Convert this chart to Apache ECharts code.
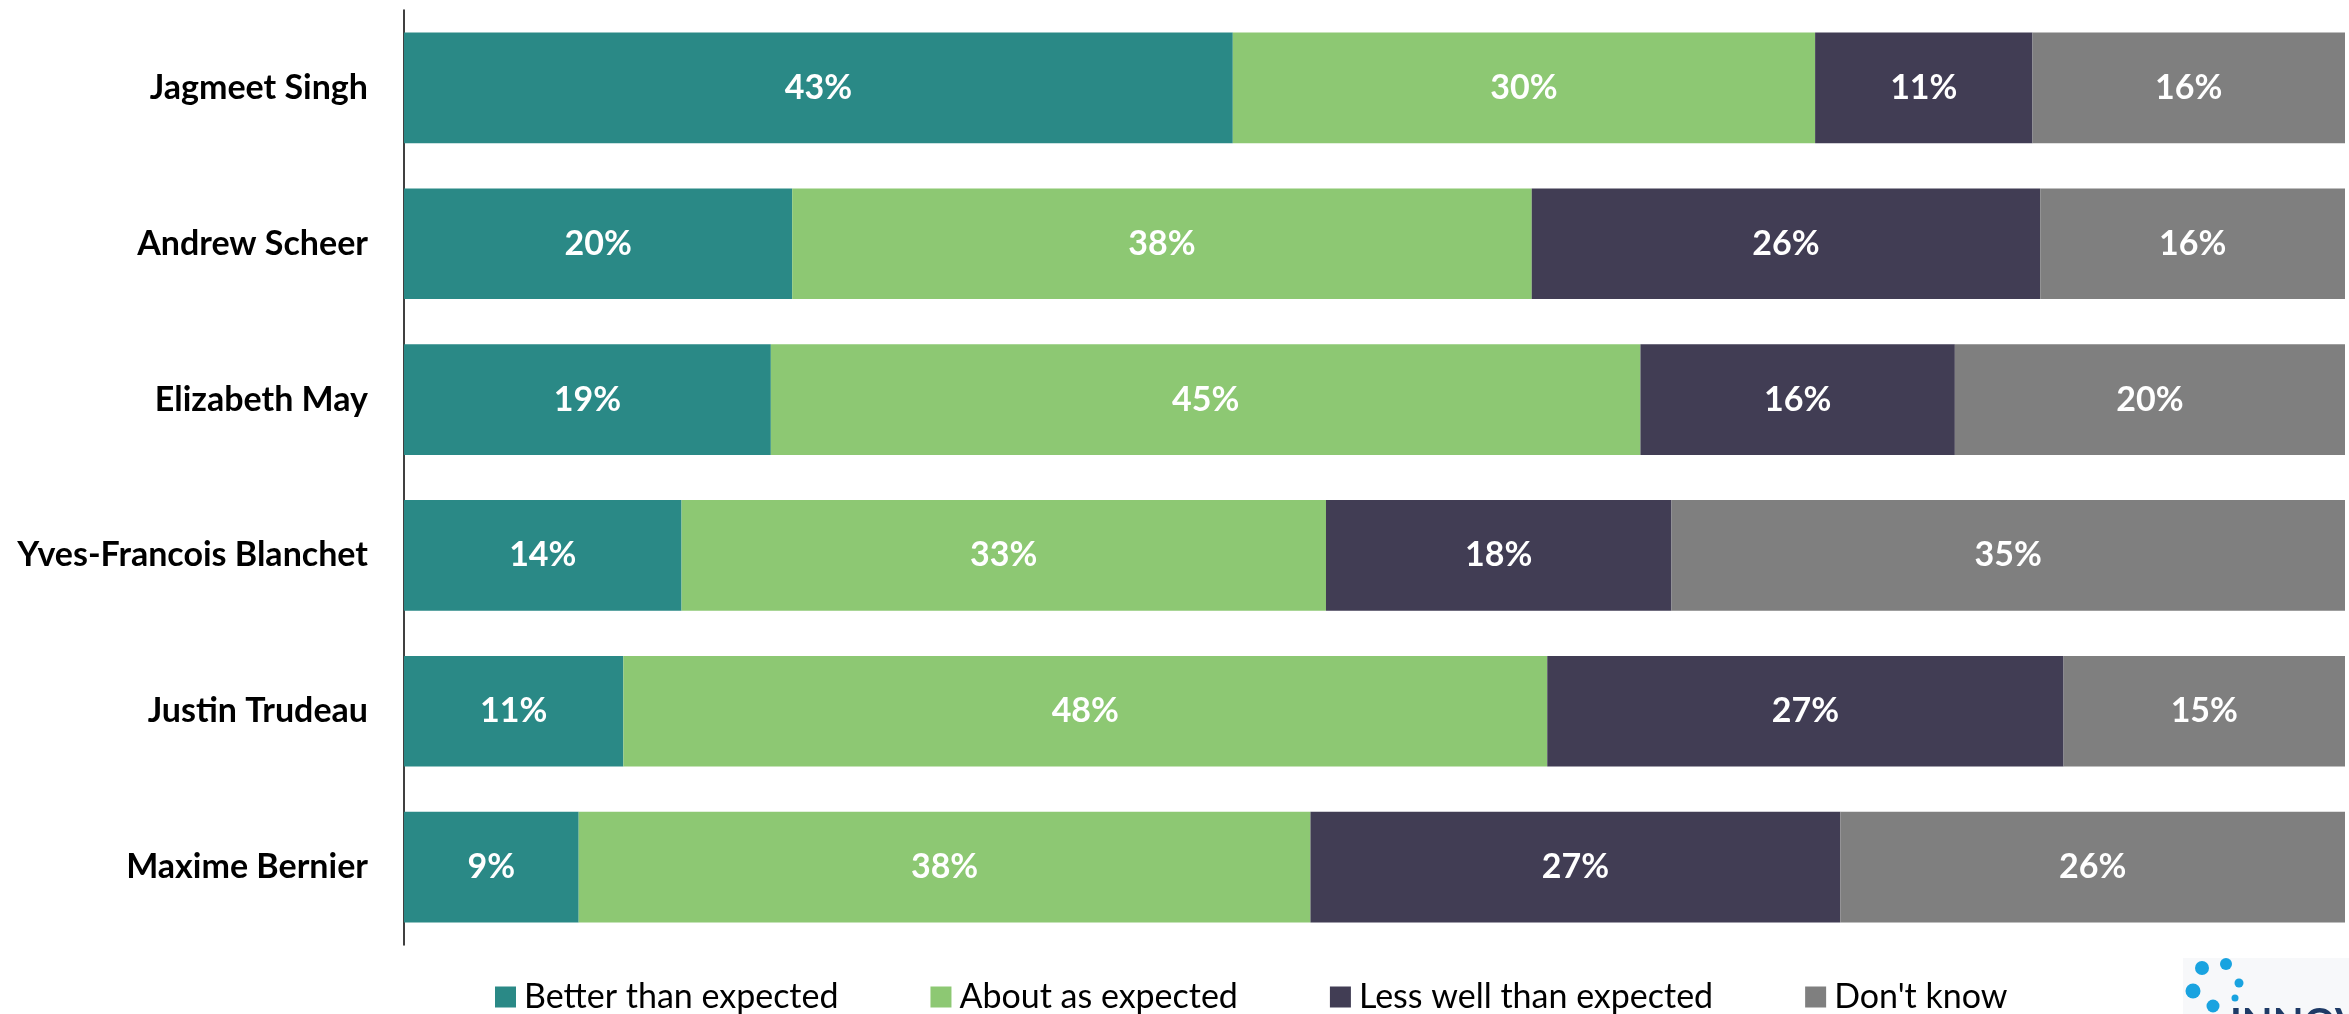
<!DOCTYPE html>
<html>
<head>
<meta charset="utf-8">
<script src="https://cdn.jsdelivr.net/npm/echarts@6/dist/echarts.min.js"></script>
<style>
html,body{margin:0;padding:0;background:#fff;}
#chart{width:2349px;height:1014px;}
</style>
</head>
<body>
<div id="chart"></div>
<script>
var leaders = ['Jagmeet Singh','Andrew Scheer','Elizabeth May','Yves-Francois Blanchet','Justin Trudeau','Maxime Bernier'];
var seriesNames = ['Better than expected','About as expected','Less well than expected',"Don't know"];
var better = [42.7, 20.0, 18.9, 14.3, 11.3, 9.0];
var aboutAs = [30.0, 38.1, 44.8, 33.2, 47.6, 37.7];
var lessWell = [11.2, 26.2, 16.2, 17.8, 26.6, 27.3];
var dontKnow = [16.1, 15.7, 20.1, 34.7, 14.5, 26.0];

var colors = ['#2A8986','#8DC873','#413D54','#7F7F7F'];
var font = "Lato, 'Open Sans', sans-serif";

function makeSeries(name, data){
    return {
        name: name,
        type: 'bar',
        stack: 'total',
        barCategoryGap: '29%',
        data: data,
        label: {
            show: true,
            position: 'inside',
            color: '#fff',
            fontFamily: font,
            fontWeight: 'bold',
            fontSize: 34,
            formatter: function(p){ return Math.round(p.value) + '%'; }
        }
    };
}

var option = {
    animation: false,
    color: colors,
    textStyle: { fontFamily: font },
    grid: {
        left: 404,
        right: 4,
        top: 10,
        bottom: 69
    },
    legend: {
        data: seriesNames,
        left: 490,
        top: 975,
        icon: 'rect',
        itemWidth: 21,
        itemHeight: 21,
        itemGap: 92,
        textStyle: {
            fontFamily: font,
            fontSize: 34,
            color: '#000',
            padding: [0, 0, 0, 3]
        }
    },
    xAxis: {
        type: 'value',
        min: 0,
        max: 100,
        show: false,
        splitLine: { show: false }
    },
    yAxis: {
        type: 'category',
        inverse: true,
        data: leaders,
        axisLine: { show: true, lineStyle: { color: '#000', width: 1.5 } },
        axisTick: { show: false },
        axisLabel: {
            margin: 36,
            color: '#000',
            fontFamily: font,
            fontWeight: 'bold',
            fontSize: 34
        }
    },
    graphic: [
        { type: 'rect', shape: { x: 2183, y: 958, width: 166, height: 56 }, style: { fill: '#f7f8fa' } },
        { type: 'circle', shape: { cx: 2202, cy: 968, r: 7 }, style: { fill: '#19A3E0' } },
        { type: 'circle', shape: { cx: 2226, cy: 964, r: 6 }, style: { fill: '#19A3E0' } },
        { type: 'circle', shape: { cx: 2193, cy: 991, r: 7.5 }, style: { fill: '#19A3E0' } },
        { type: 'circle', shape: { cx: 2239, cy: 983, r: 4.5 }, style: { fill: '#19A3E0' } },
        { type: 'circle', shape: { cx: 2235, cy: 998, r: 3.5 }, style: { fill: '#19A3E0' } },
        { type: 'circle', shape: { cx: 2213, cy: 1006, r: 6.5 }, style: { fill: '#19A3E0' } },
        { type: 'text', style: { x: 2230, y: 1004, text: 'INNOV', fill: '#1E3A66', font: 'bold 40px ' + font, textVerticalAlign: 'top' } }
    ],
    series: [
        makeSeries(seriesNames[0], better),
        makeSeries(seriesNames[1], aboutAs),
        makeSeries(seriesNames[2], lessWell),
        makeSeries(seriesNames[3], dontKnow)
    ]
};

var chart = echarts.init(document.getElementById('chart'));
chart.setOption(option);
</script>
</body>
</html>
